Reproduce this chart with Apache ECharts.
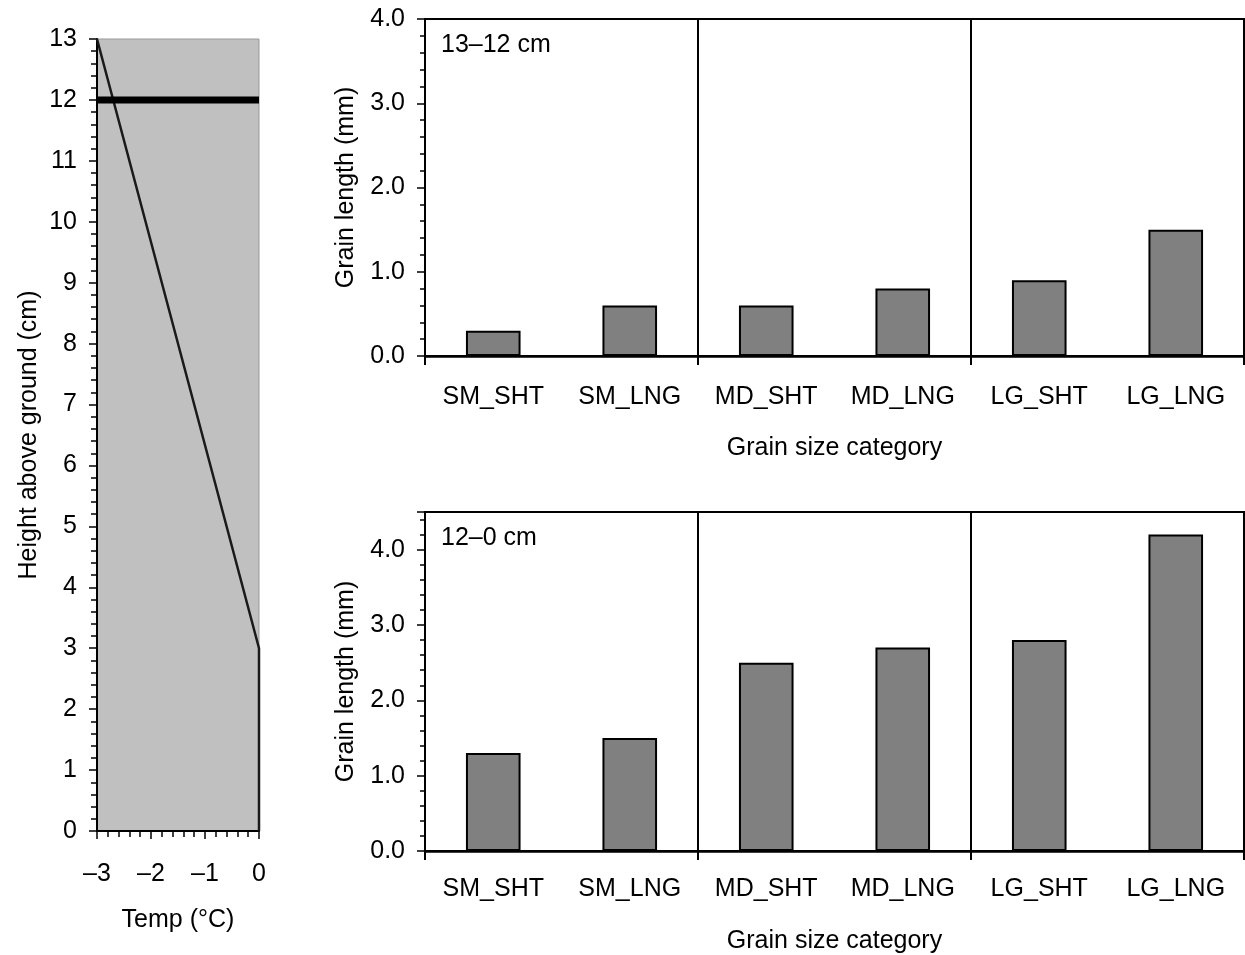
<!DOCTYPE html>
<html>
<head>
<meta charset="utf-8">
<script src="https://cdn.jsdelivr.net/npm/echarts@6/dist/echarts.min.js"></script>
<style>
  html, body { margin: 0; padding: 0; background: #fff; }
  #main { width: 1245px; height: 955px; }
</style>
</head>
<body>
<div id="main"></div>
<script>
// temperature profile (left panel)
var tempProfile = [[-3, 13], [0, 3], [0, 0]];
var snowLevel = [[-3, 12], [0, 12]];

// grain lengths (right panels)
var categories = ['SM_SHT', 'SM_LNG', 'MD_SHT', 'MD_LNG', 'LG_SHT', 'LG_LNG'];
var upperLayer = [0.3, 0.6, 0.6, 0.8, 0.9, 1.5];   // 13–12 cm
var lowerLayer = [1.3, 1.5, 2.5, 2.7, 2.8, 4.2];   // 12–0 cm

var FONT = 'Liberation Sans';
var txt = { fontFamily: FONT, fontSize: 25, color: '#000' };

function minus(v) {
    return String(v).replace('-', '\u2013');
}

// tick + separator only between size groups
function groupEdge(index) {
    return index % 2 === 0;
}

function barXAxis(gridIndex, margin, gap) {
    return {
        type: 'category', gridIndex: gridIndex, data: categories,
        boundaryGap: true,
        name: 'Grain size category', nameLocation: 'middle', nameGap: gap,
        nameTextStyle: txt,
        axisLine: { onZero: false, lineStyle: { color: '#000', width: 2.5 } },
        axisTick: { show: true, alignWithLabel: false, interval: groupEdge, length: 9, lineStyle: { color: '#000', width: 2 } },
        axisLabel: Object.assign({ margin: margin, interval: 0 }, txt),
        splitLine: { show: true, interval: groupEdge, lineStyle: { color: '#000', width: 2 } }
    };
}

function barYAxis(gridIndex, max) {
    return {
        type: 'value', gridIndex: gridIndex, min: 0, max: max, interval: 1,
        name: 'Grain length (mm)', nameLocation: 'middle', nameGap: 66,
        nameTextStyle: txt,
        axisLine: { show: true, onZero: false, lineStyle: { color: '#000', width: 2 } },
        axisTick: { show: true, length: 8, lineStyle: { color: '#000', width: 1.5 } },
        minorTick: { show: true, splitNumber: 5, length: 5, lineStyle: { color: '#000', width: 1.5 } },
        axisLabel: Object.assign({ margin: 20, showMaxLabel: max === 4, formatter: function (v) { return v.toFixed(1); } }, txt),
        splitLine: { show: false }
    };
}

function barSeries(idx, data) {
    return {
        type: 'bar', xAxisIndex: idx, yAxisIndex: idx, data: data,
        barWidth: '40%',
        itemStyle: { color: '#808080', borderColor: '#000', borderWidth: 2 }
    };
}

var titleStyle = { fontFamily: FONT, fontSize: 25, fontWeight: 'normal', color: '#000' };

var option = {
    animation: false,
    backgroundColor: '#fff',
    grid: [
        { left: 97, top: 39, width: 162, height: 792, show: true,
          backgroundColor: '#c0c0c0', borderColor: '#999', borderWidth: 1 },
        { left: 425, top: 19, width: 819, height: 337, show: true,
          borderColor: '#000', borderWidth: 2 },
        { left: 425, top: 512, width: 819, height: 340, show: true,
          borderColor: '#000', borderWidth: 2 }
    ],
    title: [
        { text: '13\u201312 cm', left: 441, top: 33, padding: 0, textStyle: titleStyle },
        { text: '12\u20130 cm', left: 441, top: 526, padding: 0, textStyle: titleStyle }
    ],
    xAxis: [
        {
            type: 'value', gridIndex: 0, min: -3, max: 0, interval: 1,
            name: 'Temp (\u00b0C)', nameLocation: 'middle', nameGap: 77,
            nameTextStyle: txt,
            axisLine: { onZero: false, lineStyle: { color: '#000', width: 2 } },
            axisTick: { length: 8, lineStyle: { color: '#000', width: 1.5 } },
            minorTick: { show: true, splitNumber: 5, length: 6, lineStyle: { color: '#000', width: 1.5 } },
            axisLabel: Object.assign({ margin: 31, formatter: minus }, txt),
            splitLine: { show: false }
        },
        barXAxis(1, 29, 80),
        barXAxis(2, 26, 78)
    ],
    yAxis: [
        {
            type: 'value', gridIndex: 0, min: 0, max: 13, interval: 1,
            name: 'Height above ground (cm)', nameLocation: 'middle', nameGap: 55,
            nameTextStyle: txt,
            axisLine: { onZero: false, lineStyle: { color: '#000', width: 2 } },
            axisTick: { length: 8, lineStyle: { color: '#000', width: 1.5 } },
            minorTick: { show: true, splitNumber: 5, length: 6, lineStyle: { color: '#000', width: 1.5 } },
            axisLabel: Object.assign({ margin: 20 }, txt),
            splitLine: { show: false }
        },
        barYAxis(1, 4),
        barYAxis(2, 4.5)
    ],
    series: [
        {
            type: 'line', xAxisIndex: 0, yAxisIndex: 0, data: tempProfile,
            symbol: 'none', lineStyle: { color: '#1a1a1a', width: 2.5 }
        },
        {
            type: 'line', xAxisIndex: 0, yAxisIndex: 0, data: snowLevel,
            symbol: 'none', lineStyle: { color: '#000', width: 7, cap: 'butt' }
        },
        barSeries(1, upperLayer),
        barSeries(2, lowerLayer)
    ]
};

var chart = echarts.init(document.getElementById('main'), null, { renderer: 'canvas' });
chart.setOption(option);
</script>
</body>
</html>
